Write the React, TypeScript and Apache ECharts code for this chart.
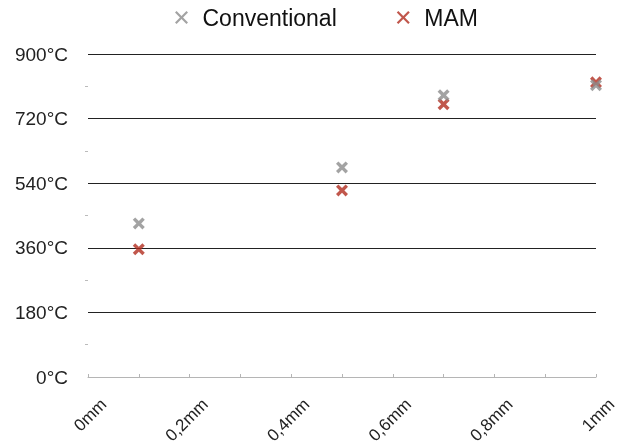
import React, { useEffect, useRef } from "react";
import * as echarts from "echarts";

const seriesNames = ["Conventional", "MAM"];
const positions = [0.1, 0.5, 0.7, 1.0];
const conventional = [428, 584, 785, 813];
const mam = [356, 520, 760, 821];
const yTicks = [0, 180, 360, 540, 720, 900];

const X_PATH = "path://M2,0 L5,3 L8,0 L10,2 L7,5 L10,8 L8,10 L5,7 L2,10 L0,8 L3,5 L0,2 Z";
const LEGEND_X = "path://M1.2,0 L5,3.8 L8.8,0 L10,1.2 L6.2,5 L10,8.8 L8.8,10 L5,6.2 L1.2,10 L0,8.8 L3.8,5 L0,1.2 Z";
const FONT = 'Helvetica, Arial, "Liberation Sans", sans-serif';

export default function App() {
  const ref = useRef<HTMLDivElement>(null);
  useEffect(() => {
    if (!ref.current) return;
    const chart = echarts.init(ref.current, null, { renderer: "svg" });
    const fmtX = (v: number) => {
      const r = Math.round(v * 10) / 10;
      return String(r).replace(".", ",") + "mm";
    };
    chart.setOption({
      animation: false,
      textStyle: { fontFamily: FONT },
      legend: {
        top: 6,
        left: 175,
        padding: 0,
        itemGap: 60,
        itemWidth: 14,
        itemHeight: 13,
        textStyle: {
          fontSize: 23,
          lineHeight: 20,
          color: "#111",
          fontFamily: FONT,
          padding: [0, 0, 0, 9],
        },
        data: [
          { name: seriesNames[0], icon: LEGEND_X },
          { name: seriesNames[1], icon: LEGEND_X },
        ],
      },
      grid: {
        left: 88,
        right: 24,
        top: 54,
        bottom: 68,
        containLabel: false,
        outerBoundsMode: "none",
      },
      xAxis: {
        type: "value",
        min: 0,
        max: 1,
        interval: 0.2,
        axisLine: { show: true, lineStyle: { color: "#b5b5b5", width: 1 } },
        axisTick: { show: true, inside: true, length: 3, lineStyle: { color: "#b5b5b5" } },
        minorTick: { show: true, splitNumber: 2, length: 3, lineStyle: { color: "#b5b5b5" } },
        splitLine: { show: false },
        axisLabel: {
          rotate: 45,
          margin: 9,
          fontSize: 17,
          color: "#222",
          verticalAlign: "top",
          lineHeight: 44,
          formatter: fmtX,
        },
      },
      yAxis: {
        type: "value",
        min: yTicks[0],
        max: yTicks[yTicks.length - 1],
        interval: 180,
        axisLine: { show: false },
        axisTick: { show: false },
        minorTick: { show: true, splitNumber: 2, length: 3, lineStyle: { color: "#bbb" } },
        splitLine: {
          show: true,
          lineStyle: { color: "#222", width: 1 },
        },
        axisLabel: {
          margin: 20,
          fontSize: 19,
          color: "#222",
          formatter: (v: number) => v + "°C",
        },
      },
      series: [
        {
          name: seriesNames[0],
          type: "scatter",
          symbol: X_PATH,
          symbolSize: 12,
          itemStyle: { color: "#8c8c8c" },
          z: 3,
          data: positions.map((p, i) => [p, conventional[i]]),
        },
        {
          name: seriesNames[1],
          type: "scatter",
          symbol: X_PATH,
          symbolSize: 12,
          itemStyle: { color: "#b12d1f" },
          z: 2,
          data: positions.map((p, i) => [p, mam[i]]),
        },
      ],
    });
    return () => chart.dispose();
  }, []);
  return (
    <div
      ref={ref}
      style={{ position: "fixed", left: 0, top: 0, width: 620, height: 445, margin: 0 }}
    />
  );
}
